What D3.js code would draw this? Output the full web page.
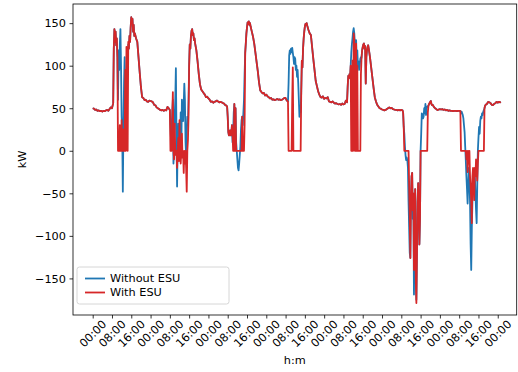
<!DOCTYPE html>
<html>
<head>
<meta charset="utf-8">
<script src="https://cdn.jsdelivr.net/npm/d3@7"></script>
<style>
  body { margin: 0; background: #fff; }
  svg { display: block; font-family: "DejaVu Sans", sans-serif; }
</style>
</head>
<body>
<svg id="chart"></svg>
<script>
// hours since the first midnight
const hours = [
  0, 0.5, 1, 1.5, 2, 2.5, 3, 3.5, 4, 4.5, 5, 5.5, 6, 6.5, 7, 7.5, 8, 8.5, 8.75, 9, 9.25, 9.5, 9.75, 10, 10.25, 10.5, 10.75, 11, 11.25, 11.5, 11.75, 12, 12.25, 12.5, 12.75, 13, 13.25, 13.5, 13.75, 14, 14.25, 14.5, 14.75, 15, 15.25, 15.5, 15.75, 16, 16.25, 16.5, 16.75, 17, 17.25, 17.5, 18, 18.5, 19, 19.5, 20, 20.5, 21, 21.5, 22, 22.5, 23, 23.5,
  24, 24.5, 25, 25.5, 26, 26.5, 27, 27.5, 28, 28.5, 29, 29.5, 30, 30.5, 31, 31.5, 32, 32.25, 32.5, 32.75, 33, 33.25, 33.5, 33.75, 34, 34.25, 34.5, 34.75, 35, 35.25, 35.5, 35.75, 36, 36.25, 36.5, 36.75, 37, 37.25, 37.5, 37.75, 38, 38.25, 38.5, 38.75, 39, 39.25, 39.5, 39.75, 40, 40.25, 40.5, 40.75, 41, 41.25, 41.5, 41.75, 42, 42.25, 42.5, 43, 43.5, 44, 44.5, 45, 45.5, 46, 46.5, 47, 47.5,
  48, 48.5, 49, 49.5, 50, 50.5, 51, 51.5, 52, 52.5, 53, 53.5, 54, 54.5, 55, 55.5, 55.75, 56, 56.25, 56.5, 56.75, 57, 57.25, 57.5, 57.75, 58, 58.25, 58.5, 58.75, 59, 59.25, 59.5, 59.75, 60, 60.25, 60.5, 60.75, 61, 61.25, 61.5, 61.75, 62, 62.25, 62.5, 62.75, 63, 63.25, 63.5, 63.75, 64, 64.25, 64.5, 64.75, 65, 65.25, 65.5, 66, 66.5, 67, 67.5, 68, 68.5, 69, 69.5, 70, 70.5, 71, 71.5,
  72, 72.5, 73, 73.5, 74, 74.5, 75, 75.5, 76, 76.5, 77, 77.5, 78, 78.5, 79, 79.5, 80, 80.5, 81, 81.25, 81.5, 81.75, 82, 82.25, 82.5, 82.75, 83, 83.25, 83.5, 83.75, 84, 84.25, 84.5, 84.75, 85, 85.25, 85.5, 85.75, 86, 86.25, 86.5, 86.75, 87, 87.25, 87.5, 87.75, 88, 88.25, 88.5, 88.75, 89, 89.5, 90, 90.5, 91, 91.5, 92, 92.5, 93, 93.5, 94, 94.5, 95, 95.5,
  96, 96.5, 97, 97.5, 98, 98.5, 99, 99.5, 100, 100.5, 101, 101.5, 102, 102.5, 103, 103.5, 104, 104.5, 105, 105.5, 105.75, 106, 106.25, 106.5, 106.75, 107, 107.25, 107.5, 107.75, 108, 108.25, 108.5, 108.75, 109, 109.25, 109.5, 109.75, 110, 110.25, 110.5, 110.75, 111, 111.25, 111.5, 111.75, 112, 112.25, 112.5, 112.75, 113, 113.25, 113.5, 113.75, 114, 114.25, 114.5, 114.75, 115, 115.5, 116, 116.5, 117, 117.5, 118, 118.5, 119, 119.5,
  120, 120.5, 121, 121.5, 122, 122.5, 123, 123.5, 124, 124.5, 125, 125.5, 126, 126.5, 127, 127.5, 128, 128.5, 128.75, 129, 129.25, 129.5, 129.75, 130, 130.25, 130.5, 130.75, 131, 131.25, 131.5, 131.75, 132, 132.25, 132.5, 132.75, 133, 133.25, 133.5, 133.75, 134, 134.25, 134.5, 134.75, 135, 135.25, 135.5, 135.75, 136, 136.25, 136.5, 136.75, 137, 137.25, 137.5, 137.75, 138, 138.25, 138.5, 138.75, 139, 139.25, 139.5, 139.75, 140, 140.25, 140.5, 140.75, 141, 141.5, 142, 142.5, 143, 143.5,
  144, 144.5, 145, 145.5, 146, 146.5, 147, 147.5, 148, 148.5, 149, 149.5, 150, 150.5, 151, 151.5, 152, 152.5, 152.75, 153, 153.25, 153.5, 153.75, 154, 154.25, 154.5, 154.75, 155, 155.25, 155.5, 155.75, 156, 156.25, 156.5, 156.75, 157, 157.25, 157.5, 157.75, 158, 158.25, 158.5, 158.75, 159, 159.25, 159.5, 159.75, 160, 160.25, 160.5, 160.75, 161, 161.25, 161.5, 161.75, 162, 162.25, 162.5, 162.75, 163, 163.5, 164, 164.5, 165, 165.5, 166, 166.5, 167, 167.5, 168, 168.5, 169, 169.25
];

const withoutEsu = [
  50, 49.5, 48, 48.5, 47, 47.5, 46.5, 47, 46, 47, 46.5, 47.5, 48, 47, 49, 51, 50, 56, 120, 143, 128, 140, 124, 132, 110, 60, 118, 95, 125, 143, 100, 40, 20, -48, 30, 80, 110, 50, 90, 60, 120, 95, 125, 120, 135, 128, 145, 157, 150, 155, 140, 148, 135, 138, 132, 128, 110, 92, 75, 63, 62, 59.5, 60, 58, 57.5, 59,
  58.5, 58, 57, 54, 53.5, 51, 50, 49, 48, 47.5, 48, 47, 48, 47.5, 51.5, 50, 48, 30, 10, 20, 45, 60, -15, 5, 40, 60, 97, 20, -42, 10, 32, -5, 22, 10, 45, 0, 60, 35, 35, 55, 79, 60, 10, -6, 20, 40, 30, 60, 100, 125, 120, 135, 141, 143, 136, 138, 130, 132, 126, 118, 105, 90, 78, 72, 70, 68, 66, 63, 63.5,
  61.5, 60, 57.5, 58, 56.5, 57.5, 58, 59, 58, 57, 57.5, 57, 56, 55.5, 53.6, 53, 52, 40, 22, 18, 20, 24, 18, 20, 30, 10, 20, 45, 55, 30, 50, 10, 0, -10, -20, -23, -15, -5, 5, 25, 36, 40, 30, 45, 60, 90, 115, 126, 138, 145, 151, 149, 152, 148, 150, 146, 140, 134, 126, 115, 104, 93, 80, 71, 69, 67.5, 68, 65,
  66, 64, 63, 61.5, 62, 60, 60.5, 59.5, 60, 61, 60, 60.5, 59.5, 60, 61, 62, 62, 59, 58, 80, 112, 118, 114, 120, 116, 121, 115, 110, 102, 110, 108, 95, 100, 87, 95, 80, 60, 40, 48, 45, 70, 106, 98, 120, 132, 140, 146, 149, 148, 150, 147, 142, 138, 136, 122, 108, 95, 82, 76, 70, 66, 63, 62.5, 64,
  61, 62, 61.5, 63, 58, 57.5, 57, 58, 56.5, 55.5, 56, 55, 54.5, 55, 54, 55.5, 54.5, 55, 59, 57, 75, 88, 85, 90, 87, 100, 115, 125, 132, 140, 144, 138, 125, 112, 130, 110, 118, 100, 105, 95, 100, 108, 110, 109, 118, 122, 125, 126, 120, 123, 79, 110, 118, 122, 124, 120, 115, 110, 98, 86, 74, 63, 58, 54, 52, 50, 49.5,
  48.5, 48, 47.5, 48, 49, 50, 51, 50, 50.5, 49, 48.5, 48, 48, 47.5, 48, 47.5, 48, 47.5, 45, 28, 20, 5, -5, -11, -8, -11, -20, -60, -90, -120, -126, -60, -30, -26, -80, -60, -169, -100, -45, -150, -175, -120, -60, -38, -70, -110, -80, 0, 20, 44, 42, 38, 40, 50, 44, 55, 42, 50, 52, 51.6, 53, 55, 56, 57.5, 58.5, 55, 53.6, 54, 51.6, 50, 49, 47.8, 48.5,
  49, 48.5, 49, 48, 48.5, 47.5, 48, 47, 47.5, 47, 47, 46.5, 47, 47, 46.5, 47, 47, 46.5, 44, 46, 44, 42, 38, 30, 22, 5, -11, -30, -45, -62, -40, -20, -30, -60, -110, -140, -90, -60, -40, -50, -47, -30, -50, -70, -85, -40, 0, 15, 28, 20, 35, 40, 38, 44, 42, 46, 48, 50, 53, 54, 55, 57.5, 57, 56, 54, 53.6, 55, 56, 57.5, 56.5, 57.5, 57, 57.5
];

const withEsu = [
  50, 49.5, 48, 48.5, 47, 47.5, 46.5, 47, 46, 47, 46.5, 47.5, 48, 47, 49, 51, 50, 56, 120, 143, 128, 140, 124, 132, 110, 0, 0, 0, 30, 0, 0, 36, 0, 0, 25, 0, 0, 95, 0, 122, 60, 0, 128, 120, 135, 128, 145, 157, 150, 155, 140, 148, 135, 138, 132, 128, 110, 92, 75, 63, 62, 59.5, 60, 58, 57.5, 59,
  58.5, 58, 57, 54, 53.5, 51, 50, 49, 48, 47.5, 48, 47, 48, 47.5, 51.5, 50, 48, 0, 0, 0, 40, 69, 0, -10, 32, 0, -5, 0, -20, 0, 15, -12, 36, 0, -15, 0, 20, -8, 0, -26, 0, -15, 0, -20, -48, 0, 12, 40, 100, 125, 120, 135, 141, 143, 136, 138, 130, 132, 126, 118, 105, 90, 78, 72, 70, 68, 66, 63, 63.5,
  61.5, 60, 57.5, 58, 56.5, 57.5, 58, 59, 58, 57, 57.5, 57, 56, 55.5, 53.6, 53, 52, 40, 22, 18, 20, 24, 18, 20, 30, 20, 0, 0, 55, 0, 50, 0, 0, 0, 0, 0, 0, 0, 0, 0, 0, 40, 0, 0, 0, 30, 115, 126, 138, 145, 151, 149, 152, 148, 150, 146, 140, 134, 126, 115, 104, 93, 80, 71, 69, 67.5, 68, 65,
  66, 64, 63, 61.5, 62, 60, 60.5, 59.5, 60, 61, 60, 60.5, 59.5, 60, 61, 62, 62, 59, 58, 0, 0, 0, 0, 0, 0, 60, 98, 0, 0, 0, 0, 0, 0, 0, 0, 0, 0, 0, 0, 0, 70, 106, 98, 120, 132, 140, 146, 149, 148, 150, 147, 142, 138, 136, 122, 108, 95, 82, 76, 70, 66, 63, 62.5, 64,
  61, 62, 61.5, 63, 58, 57.5, 57, 58, 56.5, 55.5, 56, 55, 54.5, 55, 54, 55.5, 54.5, 55, 59, 57, 75, 88, 85, 90, 87, 100, 0, 0, 106, 0, 138, 130, 0, 0, 126, 0, 100, 0, 0, 0, 0, 0, 90, 109, 118, 122, 125, 126, 120, 123, 79, 110, 118, 122, 124, 120, 115, 110, 98, 86, 74, 63, 58, 54, 52, 50, 49.5,
  48.5, 48, 47.5, 48, 49, 50, 51, 50, 50.5, 49, 48.5, 48, 48, 47.5, 48, 47.5, 48, 47.5, 45, 28, 0, 0, 0, 0, 0, 0, 0, 0, -40, -80, -126, -60, -30, -26, -70, -50, -140, -90, -45, -150, -179, -120, -60, -38, -70, -110, -80, 0, 0, 0, 0, 0, 0, 0, 0, 0, 0, 0, 0, 45, 53, 55, 56, 57.5, 58.5, 55, 53.6, 54, 51.6, 50, 49, 47.8, 48.5,
  49, 48.5, 49, 48, 48.5, 47.5, 48, 47, 47.5, 47, 47, 46.5, 47, 47, 46.5, 47, 47, 46.5, 0, 0, 0, 0, 0, 0, 0, 0, 0, -10, 0, -25, 0, -15, 0, -30, -40, -60, -85, -30, -20, -40, -58, -20, -30, -10, -25, -35, -15, 0, 0, 0, 0, 0, 0, 0, 0, 0, 0, 50, 53, 54, 55, 57.5, 57, 56, 54, 53.6, 55, 56, 57.5, 56.5, 57.5, 57, 57.5
];

const tickHours = [0, 8, 16, 24, 32, 40, 48, 56, 64, 72, 80, 88, 96, 104, 112, 120, 128, 136, 144, 152, 160, 168];
const yTicks = [-150, -100, -50, 0, 50, 100, 150];
const seriesNames = ['Without ESU', 'With ESU'];
const seriesColors = ['#1f77b4', '#d62728'];

document.addEventListener('DOMContentLoaded', function () {
    const W = 518, H = 372;
    const margin = { top: 4, right: 1.3, bottom: 57, left: 73 };
    const width = W - margin.left - margin.right;
    const height = H - margin.top - margin.bottom;

    const t0 = Date.UTC(2021, 0, 4);
    const toDate = h => new Date(t0 + h * 3600e3);

    const svg = d3.select('#chart').attr('width', W).attr('height', H);
    const g = svg.append('g').attr('transform', `translate(${margin.left},${margin.top})`);

    const x = d3.scaleUtc()
        .domain([toDate(-8.17), toDate(175.86)])
        .range([0, width]);
    const y = d3.scaleLinear()
        .domain([-193, 172.5])
        .range([height, 0]);

    // series
    const seriesValues = [withoutEsu, withEsu];
    const line = d3.line()
        .x((d, i) => x(toDate(hours[i])))
        .y(d => y(d));

    seriesValues.forEach((vals, k) => {
        g.append('path')
            .datum(vals)
            .attr('fill', 'none')
            .attr('stroke', seriesColors[k])
            .attr('stroke-width', 1.8)
            .attr('stroke-linejoin', 'round')
            .attr('d', line);
    });

    // axes
    const xAxis = d3.axisBottom(x)
        .tickValues(tickHours.map(toDate))
        .tickFormat(d3.utcFormat('%H:%M'))
        .tickSize(3.5)
        .tickSizeOuter(0);
    const gx = g.append('g')
        .attr('transform', `translate(0,${height})`)
        .call(xAxis);
    gx.select('.domain').remove();
    gx.selectAll('line').attr('stroke', '#000').attr('stroke-width', 0.8);
    gx.selectAll('text')
        .attr('x', 0).attr('y', 0).attr('dy', null)
        .attr('fill', '#000')
        .attr('font-size', '11.3px')
        .attr('font-family', 'DejaVu Sans')
        .attr('text-anchor', 'middle')
        .attr('dominant-baseline', 'central')
        .attr('transform', 'translate(0,19) rotate(-45)');

    const yAxis = d3.axisLeft(y)
        .tickValues(yTicks)
        .tickSize(3.5)
        .tickPadding(3.5)
        .tickSizeOuter(0);
    const gy = g.append('g').call(yAxis);
    gy.select('.domain').remove();
    gy.selectAll('line').attr('stroke', '#000').attr('stroke-width', 0.8);
    gy.selectAll('text')
        .attr('fill', '#000')
        .attr('font-size', '11.3px')
        .attr('font-family', 'DejaVu Sans')
        .attr('dy', '0.34em');

    // frame
    g.append('rect')
        .attr('width', width).attr('height', height)
        .attr('fill', 'none')
        .attr('stroke', '#000')
        .attr('stroke-width', 0.8);

    // axis labels
    g.append('text')
        .attr('x', width / 2)
        .attr('y', height + 49)
        .attr('text-anchor', 'middle')
        .attr('font-size', '11.3px')
        .text('h:m');

    g.append('text')
        .attr('transform', `translate(${22 - margin.left},${height / 2}) rotate(-90)`)
        .attr('text-anchor', 'middle')
        .attr('dominant-baseline', 'central')
        .attr('font-size', '11.3px')
        .text('kW');

    // legend
    const lg = g.append('g').attr('transform', `translate(${77 - margin.left},${267 - margin.top})`);
    lg.append('rect')
        .attr('width', 152).attr('height', 37)
        .attr('rx', 2.5)
        .attr('fill', '#fff').attr('fill-opacity', 0.8)
        .attr('stroke', '#cccccc').attr('stroke-width', 0.8);
    seriesNames.forEach((name, k) => {
        const yy = 11.5 + k * 14;
        lg.append('line')
            .attr('x1', 8).attr('x2', 28)
            .attr('y1', yy).attr('y2', yy)
            .attr('stroke', seriesColors[k])
            .attr('stroke-width', 1.8);
        lg.append('text')
            .attr('x', 33).attr('y', yy)
            .attr('dominant-baseline', 'central')
            .attr('font-size', '11.3px')
            .text(name);
    });
});
</script>
</body>
</html>
